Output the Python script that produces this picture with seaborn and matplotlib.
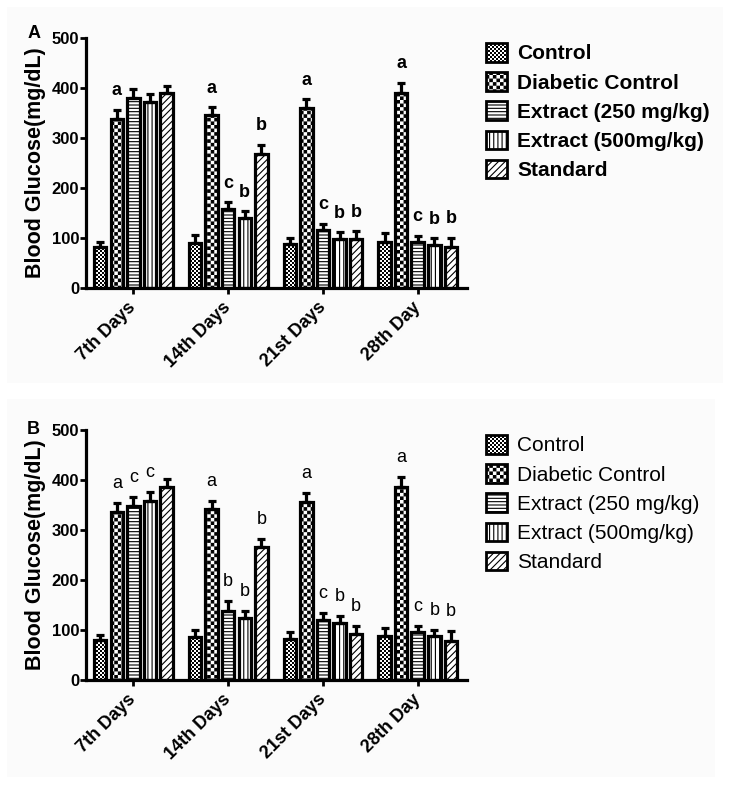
import numpy as np
import pandas as pd
import matplotlib
matplotlib.use("Agg")
import matplotlib.pyplot as plt
import matplotlib.hatch as mhatch
from matplotlib.path import Path
from matplotlib.patches import Patch, Rectangle
from matplotlib.container import BarContainer
import seaborn as sns

# ---------------- data ----------------
days = ["7th Days", "14th Days", "21st Days", "28th Day"]
groups = ["Control", "Diabetic Control", "Extract (250 mg/kg)",
          "Extract (500mg/kg)", "Standard"]

# Panel A
a_control = [82, 89, 87, 91]
a_diabetic = [338, 346, 359, 391]
a_ext250 = [380, 158, 116, 91]
a_ext500 = [372, 140, 98, 86]
a_standard = [390, 268, 97, 81]
a_err_control = [10, 16, 13, 18]
a_err_diabetic = [18, 15, 18, 19]
a_err_ext250 = [18, 13, 12, 13]
a_err_ext500 = [16, 13, 13, 13]
a_err_standard = [15, 18, 16, 19]
a_let_control = ["", "", "", ""]
a_let_diabetic = ["a", "a", "a", "a"]
a_let_ext250 = ["", "c", "c", "c"]
a_let_ext500 = ["", "b", "b", "b"]
a_let_standard = ["", "b", "b", "b"]

# Panel B
b_control = [80, 86, 82, 88]
b_diabetic = [336, 342, 356, 386]
b_ext250 = [348, 139, 120, 96]
b_ext500 = [358, 124, 114, 89]
b_standard = [387, 266, 92, 79]
b_err_control = [10, 15, 14, 16]
b_err_diabetic = [18, 17, 18, 21]
b_err_ext250 = [18, 19, 14, 13]
b_err_ext500 = [18, 14, 14, 12]
b_err_standard = [15, 16, 17, 19]
b_let_control = ["", "", "", ""]
b_let_diabetic = ["a", "a", "a", "a"]
b_let_ext250 = ["c", "b", "c", "c"]
b_let_ext500 = ["c", "b", "b", "b"]
b_let_standard = ["", "b", "b", "b"]

yticks = [0, 100, 200, 300, 400, 500]

# ---------------- custom checkerboard hatches ----------------
HATCH_LW = 0.8


class _Checker(mhatch.HatchPatternBase):
    char = "o"
    cells = 50

    def __init__(self, hatch, density):
        k = hatch.count(self.char)
        self.n = self.cells * k if k else 0
        self.num_vertices = (self.n * self.n // 2) * 5

    def set_vertices_and_codes(self, vertices, codes):
        n = self.n
        s = 1.0 / n
        w = HATCH_LW / 72.0
        h = max(s - w, 0.0005)
        ii, jj = np.meshgrid(np.arange(n), np.arange(n), indexing="ij")
        mask = (ii + jj) % 2 == 0
        x0 = ii[mask] * s + w / 2
        y0 = jj[mask] * s + w / 2
        sq = np.array([[0, 0], [h, 0], [h, h], [0, h], [0, 0]], float)
        verts = (sq[None, :, :] + np.stack([x0, y0], axis=1)[:, None, :]).reshape(-1, 2)
        vertices[:] = verts
        c = np.array([Path.MOVETO, Path.LINETO, Path.LINETO, Path.LINETO,
                      Path.CLOSEPOLY], dtype=Path.code_type)
        codes[:] = np.tile(c, len(x0))


class _FineChecker(_Checker):
    char = "o"
    cells = 50


class _CoarseChecker(_Checker):
    char = "O"
    cells = 28


mhatch._hatch_types[:] = [t for t in mhatch._hatch_types
                          if t not in (mhatch.SmallCircles, mhatch.LargeCircles)]
mhatch._hatch_types.extend([_FineChecker, _CoarseChecker])

hatches = ["o", "O", "-----", "||||", "/////"]

# ---------------- style ----------------
sns.set_style("ticks")
plt.rcParams["font.family"] = ["Liberation Sans", "DejaVu Sans"]
plt.rcParams["hatch.linewidth"] = HATCH_LW
plt.rcParams["hatch.color"] = "black"
for k in ["text.color", "axes.labelcolor", "xtick.color", "ytick.color",
          "axes.edgecolor"]:
    plt.rcParams[k] = "black"

W, H = 730, 785
fig = plt.figure(figsize=(W / 100, H / 100), dpi=100)
fig.patch.set_facecolor("white")

# faint panel backgrounds
for (x0, y0, x1, y1) in [(7, 7, 723, 383), (7, 399, 715, 777)]:
    fig.add_artist(Rectangle((x0 / W, 1 - y1 / H), (x1 - x0) / W, (y1 - y0) / H,
                             transform=fig.transFigure, facecolor="#fbfbfb",
                             edgecolor="none", zorder=-10))


def panel(ax_rect, vals, errs, lets, bold, letter, letter_pos, leg_anchor):
    ax = fig.add_axes(ax_rect)
    ax.set_facecolor("none")
    rows = []
    for g, v in zip(groups, vals):
        for d, y in zip(days, v):
            rows.append({"day": d, "group": g, "value": y})
    df = pd.DataFrame(rows)
    sns.barplot(data=df, x="day", y="value", hue="group", order=days,
                hue_order=groups, palette=["white"] * 5, edgecolor="black",
                linewidth=2.3, width=0.875, gap=0.25, errorbar=None,
                saturation=1, legend=False, ax=ax)
    wt = "bold" if bold else "normal"
    bar_conts = [c for c in ax.containers if isinstance(c, BarContainer)]
    for i, cont in enumerate(bar_conts):
        xs, ys = [], []
        for bar in cont:
            bar.set_hatch(hatches[i])
            bar.set_facecolor("white")
            bar.set_edgecolor("black")
            xs.append(bar.get_x() + bar.get_width() / 2)
            ys.append(bar.get_height())
        e = errs[i]
        ax.errorbar(xs, ys, yerr=[np.zeros(len(e)), e], fmt="none",
                    ecolor="black", elinewidth=2.3, capsize=3.2, capthick=2.3,
                    zorder=1)
        for x, y, ee, t in zip(xs, ys, e, lets[i]):
            if t:
                ax.annotate(t, (x, y + ee), xytext=(0, 10.5),
                            textcoords="offset points", ha="center",
                            va="baseline", fontsize=13, fontweight=wt)
    ax.set_ylim(0, 500)
    ax.set_xlim(-0.5, 3.52)
    ax.set_yticks(yticks)
    ax.set_yticklabels([str(t) for t in yticks], fontsize=12, fontweight="bold")
    ax.set_xticks(range(len(days)))
    ax.set_xticklabels(days, rotation=45, ha="right", va="center",
                       rotation_mode="anchor", fontsize=13, fontweight="bold")
    ax.set_xlabel("")
    ax.set_ylabel("Blood Glucose(mg/dL)", fontsize=15.5, fontweight="bold")
    ax.yaxis.set_label_coords(-0.105, 0.5)
    sns.despine(ax=ax)
    for s in ["left", "bottom"]:
        ax.spines[s].set_linewidth(2.3)
    ax.tick_params(axis="both", width=2.0, length=4, color="black")
    ax.tick_params(axis="y", pad=1)
    ax.tick_params(axis="x", pad=8)
    handles = [Patch(facecolor="white", edgecolor="black", hatch=h,
                     linewidth=2.0, label=g) for h, g in zip(hatches, groups)]
    ax.legend(handles=handles, loc="upper left", bbox_to_anchor=leg_anchor,
              bbox_transform=fig.transFigure, frameon=False, borderpad=0,
              handlelength=1.0, handleheight=1.0, handletextpad=0.5,
              labelspacing=0.42, borderaxespad=0,
              prop={"size": 15, "weight": wt, "family": ["Liberation Sans"]})
    fig.text(letter_pos[0] / W, 1 - letter_pos[1] / H, letter, ha="center",
             va="center", fontsize=13, fontweight="bold")
    return ax


axA = panel([86 / W, 1 - 288 / H, 381 / W, 250 / H],
            [a_control, a_diabetic, a_ext250, a_ext500, a_standard],
            [a_err_control, a_err_diabetic, a_err_ext250, a_err_ext500, a_err_standard],
            [a_let_control, a_let_diabetic, a_let_ext250, a_let_ext500, a_let_standard],
            True, "A", (34, 34), (486 / W, 1 - 43 / H))
axB = panel([86 / W, 1 - 680 / H, 381 / W, 250 / H],
            [b_control, b_diabetic, b_ext250, b_ext500, b_standard],
            [b_err_control, b_err_diabetic, b_err_ext250, b_err_ext500, b_err_standard],
            [b_let_control, b_let_diabetic, b_let_ext250, b_let_ext500, b_let_standard],
            False, "B", (33, 430), (486 / W, 1 - 435 / H))

fig.savefig("out.png", dpi=100)
